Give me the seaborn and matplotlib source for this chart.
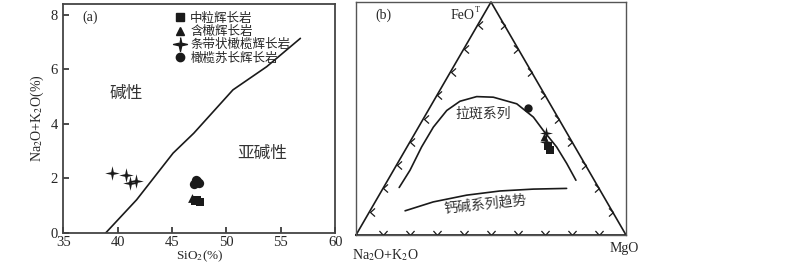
import numpy as np
import pandas as pd
import seaborn as sns
import matplotlib.pyplot as plt
from matplotlib.path import Path
from matplotlib.lines import Line2D

sns.set_theme(style="ticks")
plt.rcParams["font.family"] = ["Liberation Serif", "Noto Sans CJK SC"]
plt.rcParams["mathtext.fontset"] = "stix"

# rock types (legend order)
rock_names = ["中粒辉长岩", "含橄辉长岩", "条带状橄榄辉长岩", "橄榄苏长辉长岩"]

# (a) SiO2 vs Na2O+K2O
sq_sio2 = [47.1, 47.6, 47.3]
sq_alk = [1.16, 1.14, 1.20]
tri_sio2 = [46.8]
tri_alk = [1.28]
star_sio2 = [39.45, 40.8, 41.1, 41.7]
star_alk = [2.20, 2.14, 1.83, 1.92]
cir_sio2 = [47.0, 47.2, 47.5, 47.3]
cir_alk = [1.80, 1.95, 1.85, 1.90]

# alkaline / subalkaline dividing line
div_sio2 = [38.9, 41.75, 45.1, 47.0, 50.6, 53.7, 56.8]
div_alk = [0.0, 1.22, 2.93, 3.66, 5.25, 6.10, 7.14]

# (b) AFM ternary, values in % (A = Na2O+K2O, F = FeOT, M = MgO)
sq_A, sq_F, sq_M = [10.0, 10.0], [38.1, 36.4], [51.9, 53.6]
tri_A, tri_F, tri_M = [9.4], [41.9], [48.7]
star_A, star_F, star_M = [7.8, 9.7], [43.6, 39.8], [48.6, 50.5]
cir_A, cir_F, cir_M = [9.1], [54.3], [36.6]

# tholeiitic / calc-alkaline boundary
th_A = [73.8, 66.1, 56.8, 48.2, 39.7, 32.8, 25.6, 19.6, 12.3, 9.0, 8.2, 6.8, 6.6, 6.8]
th_F = [20.4, 27.8, 37.8, 46.3, 53.5, 57.4, 59.4, 59.2, 56.3, 50.6, 44.9, 37.8, 30.7, 23.5]
th_M = [5.8, 6.1, 5.4, 5.5, 6.9, 9.8, 15.0, 21.3, 31.4, 40.4, 46.9, 55.4, 62.7, 69.7]
# calc-alkaline trend
ca_A = [76.7, 64.3, 50.5, 37.2, 24.5, 12.0]
ca_F = [10.4, 14.2, 17.1, 18.9, 19.7, 20.0]
ca_M = [13.0, 21.5, 32.4, 43.9, 55.8, 68.0]

tern_ticks = [0.1, 0.2, 0.3, 0.4, 0.5, 0.6, 0.7, 0.8, 0.9]


def to_xy(A, F, M):
    A, F, M = np.asarray(A, float), np.asarray(F, float), np.asarray(M, float)
    s = A + F + M
    f, m = F / s, M / s
    return m + f / 2, f * np.sqrt(3) / 2


star_marker = [(0, 1), (0.18, 0.18), (1, 0), (0.18, -0.18),
               (0, -1), (-0.18, -0.18), (-1, 0), (-0.18, 0.18)]
styles = [("s", 34), ("^", 40), (star_marker, 110), ("o", 45)]

fig = plt.figure(figsize=(8, 2.66), dpi=100)

# ---------------- (a) ----------------
ax1 = fig.add_axes([0.079, 0.124, 0.34, 0.861])
sns.lineplot(x=div_sio2, y=div_alk, color="k", lw=1.2, sort=False, ax=ax1)
pts_a = [(sq_sio2, sq_alk), (tri_sio2, tri_alk), (star_sio2, star_alk), (cir_sio2, cir_alk)]
for (xs, ys), (mk, sz) in zip(pts_a, styles):
    sns.scatterplot(x=xs, y=ys, marker=mk, s=sz, color="k", edgecolor="k",
                    linewidth=0, ax=ax1)
ax1.set_xlim(35, 60)
ax1.set_ylim(0, 8.4)
ax1.set_xticks([35, 40, 45, 50, 55, 60])
ax1.set_yticks([0, 2, 4, 6, 8])
ax1.tick_params(direction="in", length=4, labelsize=10.5, color="#333333")
ax1.tick_params(axis="x", pad=2.5)
ax1.tick_params(axis="y", pad=4)
for s in ax1.spines.values():
    s.set_color("#444444")
    s.set_linewidth(1.3)
ax1.set_xlabel("SiO$_2$(%)", fontsize=9.5, labelpad=-1)
ax1.set_ylabel("Na$_2$O+K$_2$O(%)", fontsize=10, labelpad=3)
ax1.text(36.8, 7.9, "(a)", fontsize=10, va="center")
ax1.text(39.3, 5.1, "碱性", fontsize=12, va="center", color="#333333")
ax1.text(51.0, 2.9, "亚碱性", fontsize=12, va="center", color="#333333")

handles = [Line2D([], [], ls="none", marker=mk, color="k",
                  markersize=(6 if i != 2 else 10)) for i, (mk, _) in enumerate(styles)]
ax1.legend(handles, rock_names, loc="upper left", bbox_to_anchor=(0.38, 1.0),
           frameon=False, fontsize=9, handlelength=0.8, handletextpad=0.4,
           labelspacing=0.1, borderpad=0.2)

# ---------------- (b) ----------------
ax2 = fig.add_axes([0.445, 0.1165, 0.3375, 0.876])
ax2.set_xlim(0, 1)
ax2.set_ylim(0, np.sqrt(3) / 2)
ax2.set_xticks([])
ax2.set_yticks([])
for s in ax2.spines.values():
    s.set_color("#555555")
    s.set_linewidth(1.0)

h = np.sqrt(3) / 2
ax2.plot([0, 0.5, 1, 0], [0, h, 0, 0], color="k", lw=1.2, clip_on=False)

# chevron ticks on the triangle sides
t = np.array(tern_ticks)
codes = [Path.MOVETO, Path.LINETO, Path.LINETO]
chev_left = Path([(1, 0.9), (0, 0), (1, -0.9)], codes)
chev_right = Path([(-1, 0.9), (0, 0), (-1, -0.9)], codes)
chev_down = Path([(-0.9, 1), (0, 0), (0.9, 1)], codes)
kw = dict(ls="none", mfc="none", mec="k", ms=6.5, mew=0.9, clip_on=False)
ax2.plot(t / 2, t * h, marker=chev_left, **kw)
ax2.plot(1 - t / 2, t * h, marker=chev_right, **kw)
ax2.plot(t, np.zeros_like(t), marker=chev_down, **kw)

x, y = to_xy(th_A, th_F, th_M)
ax2.plot(x, y, color="k", lw=1.2)
x, y = to_xy(ca_A, ca_F, ca_M)
ax2.plot(x, y, color="k", lw=1.2)

pts_b = [(star_A, star_F, star_M, 2), (tri_A, tri_F, tri_M, 1),
         (sq_A, sq_F, sq_M, 0), (cir_A, cir_F, cir_M, 3)]
for A, F, M, k in pts_b:
    x, y = to_xy(A, F, M)
    mk, sz = styles[k]
    sns.scatterplot(x=x, y=y, marker=mk, s=sz * 0.8, color="k", edgecolor="k",
                    linewidth=0, ax=ax2)

ax2.text(0.07, 0.815, "(b)", fontsize=10, va="center")
ax2.text(0.44, 0.815, "FeO", fontsize=10, ha="right", va="center")
ax2.text(0.442, 0.835, "T", fontsize=6, ha="left", va="center")
ax2.text(0.47, 0.452, "拉斑系列", fontsize=10, ha="center", va="center", color="#333333")
ax2.text(0.48, 0.112, "钙碱系列趋势", fontsize=10, ha="center", va="center",
         rotation=6, color="#333333")
ax2.text(0.11, -0.075, "Na$_2$O+K$_2$O", fontsize=10, ha="center", va="center")
ax2.text(0.94, -0.05, "MgO", fontsize=10, ha="left", va="center")

fig.savefig("out.png", dpi=100)
